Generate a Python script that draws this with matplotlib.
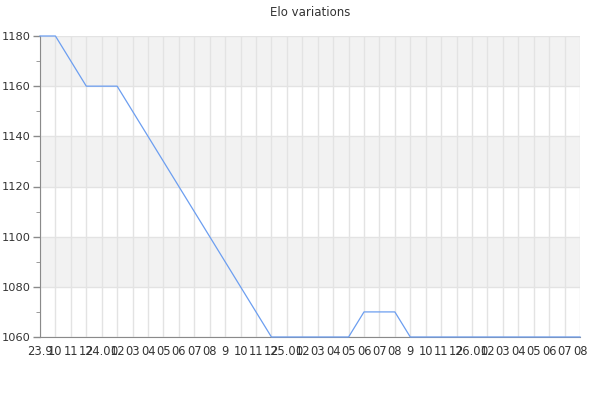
import matplotlib
matplotlib.use('Agg')
import matplotlib.pyplot as plt
from matplotlib.ticker import MultipleLocator

# month labels along the x axis
months = ['23.9', '10', '11', '12',
          '24.01', '02', '03', '04', '05', '06', '07', '08', '9', '10', '11', '12',
          '25.01', '02', '03', '04', '05', '06', '07', '08', '9', '10', '11', '12',
          '26.01', '02', '03', '04', '05', '06', '07', '08']

# rating change points (month index, elo)
point_idx = [0, 1, 3, 5, 15, 20, 21, 23, 24, 35]
elo = [1180, 1180, 1160, 1160, 1060, 1060, 1070, 1070, 1060, 1060]

LINE = '#6c9ef0'
GRID = '#e3e3e3'
BAND = '#f2f2f2'
AXIS = '#8a8a8a'
TEXT = '#333333'

fig = plt.figure(figsize=(6, 4), dpi=100)
ax = fig.add_axes([40/600, 63/400, 540/600, 301/400])

ax.set_xlim(0, len(months) - 1)
ax.set_ylim(1060, 1180)

# alternating horizontal bands
for lo in range(1060, 1180, 40):
    ax.axhspan(lo + 20, lo + 40, color=BAND, zorder=0, lw=0)

ax.set_xticks(range(len(months)))
ax.set_xticklabels(months, fontsize=8.3, color=TEXT)
ax.yaxis.set_major_locator(MultipleLocator(20))
ax.yaxis.set_minor_locator(MultipleLocator(10))
ax.tick_params(axis='y', labelsize=8.2, labelcolor=TEXT, colors=AXIS, length=5, width=1, pad=2)
ax.tick_params(axis='y', which='minor', length=3, colors=AXIS)
ax.tick_params(axis='x', length=0, pad=6)

ax.grid(True, which='major', color=GRID, lw=1, zorder=1)
ax.set_axisbelow(True)

for s in ['top', 'right']:
    ax.spines[s].set_visible(False)
for s in ['left', 'bottom']:
    ax.spines[s].set_color(AXIS)

ax.plot(point_idx, elo, color=LINE, lw=0.9, zorder=3, clip_on=False)

fig.text(310/600, 1 - 12/400, 'Elo variations', ha='center', va='center', fontsize=8.5, color=TEXT)

plt.savefig('out.png', dpi=100)
plt.close()
